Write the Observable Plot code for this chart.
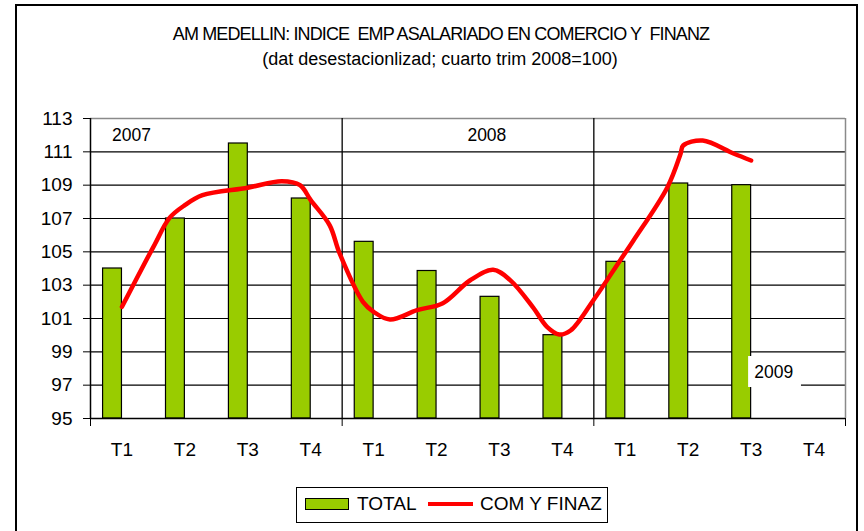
<!DOCTYPE html>
<html><head><meta charset="utf-8">
<script src="https://cdn.jsdelivr.net/npm/d3@7"></script>
<script src="https://cdn.jsdelivr.net/npm/@observablehq/plot@0.6"></script>
<style>
body{margin:0;background:#fff;font-family:"Liberation Sans",Arial,sans-serif;}
#page{position:relative;width:864px;height:531px;overflow:hidden;background:#fff;}
#frame{position:absolute;left:15px;top:4px;width:843px;height:560px;border:2px solid #000;box-sizing:border-box;}
#title{position:absolute;left:0;width:882px;top:23px;text-align:center;font-size:18px;letter-spacing:-0.88px;line-height:22px;color:#000;}
#subtitle{position:absolute;left:0;width:880px;top:48px;text-align:center;font-size:18px;line-height:22px;color:#000;}
#chart{position:absolute;left:0;top:90px;}
#legend{position:absolute;left:296px;top:487px;width:312px;height:36px;border:1.5px solid #000;box-sizing:border-box;font-size:19px;background:#fff;}
#legend .sw{position:absolute;left:8px;top:10px;width:44px;height:12px;background:#99CC00;border:1.5px solid #000;box-sizing:border-box;}
#legend .t1{position:absolute;left:60px;top:5px;line-height:22px;}
#legend .ln{position:absolute;left:131px;top:14px;width:45px;height:4px;background:#ff0000;}
#legend .t2{position:absolute;left:183px;top:5px;line-height:22px;}
</style></head>
<body>
<div id="page">
  <div id="frame"></div>
  <div id="title">AM MEDELLIN: INDICE&nbsp; EMP ASALARIADO EN COMERCIO Y&nbsp; FINANZ</div>
  <div id="subtitle">(dat desestacionlizad; cuarto trim 2008=100)</div>
  <div id="chart"></div>
  <div id="legend"><div class="sw"></div><span class="t1">TOTAL</span><div class="ln"></div><span class="t2">COM Y FINAZ</span></div>
</div>
<script>
// ---- data ----
const quarters = ["T1","T2","T3","T4","T1","T2","T3","T4","T1","T2","T3","T4"];
const years = ["2007","2008","2009"];
const totalValues = [104.0, 107.0, 111.5, 108.2, 105.6, 103.85, 102.3, 100.0, 104.4, 109.1, 109.0, null];
// COM Y FINAZ line (position in quarter units, 1 = T1 2007)
const comPos = [1.0, 1.5, 1.76, 2.0, 2.28, 3.0, 3.54, 3.83, 4.0, 4.3, 4.46, 4.83, 5.0, 5.26, 5.69, 6.1, 6.53, 6.9, 7.17, 7.53, 7.76, 7.95, 8.13, 8.49, 8.92, 9.13, 9.67, 9.88, 9.92, 10.23, 10.72, 11.0];
const comValues = [101.7, 105.3, 107.05, 107.8, 108.4, 108.85, 109.24, 109.0, 108.1, 106.6, 104.9, 102.0, 101.4, 100.94, 101.5, 101.92, 103.28, 103.92, 103.3, 101.68, 100.48, 100.04, 100.28, 102.08, 104.5, 105.68, 108.88, 110.9, 111.38, 111.68, 110.9, 110.48];
const yTicks = [95, 97, 99, 101, 103, 105, 107, 109, 111, 113];

// ---- derived tables ----
const bars = quarters.map((q, i) => ({pos: i + 1, q, v: totalValues[i]})).filter(d => d.v != null);
const line = comPos.map((p, i) => ({pos: p, v: comValues[i]}));
const yMin = yTicks[0], yMax = yTicks[yTicks.length - 1];
const nQ = quarters.length;
const boundaries = d3.range(years.length + 1).map(k => k * 4 + 0.5);
const yearLabels = [
  {label: years[0], pos: 1.15, v: 111.98},
  {label: years[1], pos: 6.8, v: 111.98},
  {label: years[2], pos: 11.36, v: 97.76}
];

const chart = Plot.plot({
  width: 864,
  height: 380,
  marginLeft: 90,
  marginRight: 19,
  marginTop: 28,
  marginBottom: 52,
  style: {fontFamily: '"Liberation Sans", Arial, sans-serif', fontSize: "19px", color: "#000", background: "transparent"},
  x: {type: "linear", domain: [0.5, nQ + 0.5]},
  y: {domain: [yMin, yMax]},
  marks: [
    Plot.ruleY(yTicks.slice(1, -1), {stroke: "#000", strokeWidth: 1.2}),
    Plot.ruleY([yMax], {stroke: "#8a8a8a", strokeWidth: 1.5}),
    Plot.ruleX(boundaries.slice(1, -1), {stroke: "#000", strokeWidth: 1.3}),
    Plot.ruleX([boundaries[boundaries.length - 1]], {stroke: "#8a8a8a", strokeWidth: 1.5}),
    Plot.rect(bars, {x1: d => d.pos - 0.3, x2: d => d.pos, y1: yMin, y2: "v", fill: "#99CC00", stroke: "#000", strokeWidth: 1.2}),
    Plot.rect([0], {x1: 10.96, x2: 11.8, y1: 96.86, y2: 98.72, fill: "#fff"}),
    Plot.text(yearLabels, {x: "pos", y: "v", text: "label", fontSize: 17.5, fill: "#000"}),
    Plot.line(line, {x: "pos", y: "v", curve: "catmull-rom", stroke: "#ff0000", strokeWidth: 4.5, strokeLinejoin: "round"}),
    Plot.ruleY([yMin], {stroke: "#000", strokeWidth: 1.5}),
    Plot.ruleX([boundaries[0]], {stroke: "#000", strokeWidth: 1.5}),
    Plot.axisY({ticks: yTicks, tickSize: 7, tickPadding: 11, fontSize: 19, label: null, tickFormat: d => String(d)}),
    Plot.axisX({ticks: boundaries, tickSize: 8, tickFormat: () => "", label: null}),
    Plot.axisX({ticks: d3.range(1, nQ + 1), tickSize: 0, tickPadding: 24, fontSize: 19, label: null, tickFormat: d => quarters[d - 1]})
  ]
});
document.getElementById("chart").appendChild(chart);
</script>
</body></html>
